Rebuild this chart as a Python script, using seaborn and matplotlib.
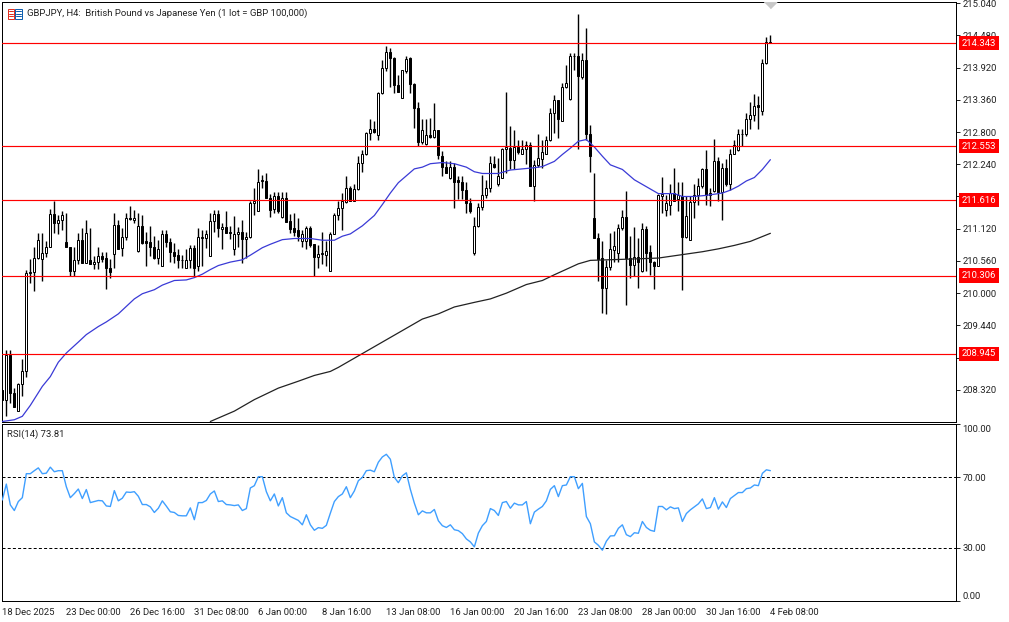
import numpy as np
import pandas as pd
import matplotlib
matplotlib.use("Agg")
import matplotlib.pyplot as plt
from matplotlib.patches import Rectangle
import seaborn as sns

# GBPJPY H4 candles
opens = [208.32,208.15,208.93,208.27,207.95,208.42,208.64,210.35,210.37,210.61,
210.59,210.70,210.81,211.38,211.22,211.27,210.89,210.80,210.38,210.58,
210.92,210.53,210.57,210.51,210.54,210.65,210.61,210.44,210.68,211.18,
210.79,210.98,211.30,211.27,210.73,211.17,210.90,210.89,210.80,210.61,
210.48,211.03,210.89,210.72,210.67,210.58,210.44,210.57,210.79,210.47,
210.96,210.96,210.64,211.25,211.38,211.12,211.15,211.06,210.76,211.03,
211.06,210.94,210.98,211.56,211.43,211.95,211.95,211.66,211.47,211.69,
211.33,211.66,211.25,211.13,211.09,210.90,210.90,211.13,210.85,210.62,
210.68,210.67,210.38,211.03,211.36,211.48,211.59,211.83,211.61,211.81,
212.26,212.41,212.78,212.85,212.74,213.48,213.91,214.19,214.09,213.62,
213.39,213.86,214.08,213.64,213.22,212.62,212.59,212.75,212.71,212.83,
212.39,212.19,212.00,212.20,211.96,211.93,211.80,211.57,210.69,211.16,
211.50,211.70,211.83,212.25,211.89,212.01,212.51,212.52,212.32,212.54,
212.42,212.50,212.57,211.87,212.22,212.34,212.41,212.66,213.13,213.35,
213.00,213.58,213.38,214.13,214.13,213.75,214.06,212.77,211.31,210.96,
210.61,210.09,210.46,210.75,210.69,211.13,211.32,210.61,210.49,210.63,
210.38,211.12,210.71,210.54,210.48,211.68,211.44,211.53,211.74,211.63,
211.68,210.97,210.93,211.59,211.71,211.86,212.16,211.74,211.78,212.29,
211.75,212.18,211.89,212.42,212.48,212.76,212.76,213.03,213.09,213.27,
213.16,214.00,214.36]

highs = [208.32,209.02,209.02,208.35,208.44,208.86,210.40,210.59,210.80,211.05,
211.05,210.90,211.46,211.60,211.35,211.42,211.40,210.80,210.80,211.05,
211.13,211.27,211.13,210.64,210.80,210.71,210.71,210.59,211.40,211.27,
211.13,211.39,211.51,211.44,211.39,211.36,211.07,211.16,210.99,210.93,
211.09,211.09,210.96,210.87,210.76,210.67,210.77,210.83,210.84,211.13,
211.09,211.10,211.39,211.44,211.45,211.22,211.43,211.17,211.34,211.15,
211.28,211.07,211.61,211.83,212.16,212.06,212.09,211.73,211.76,211.75,
211.75,211.75,211.38,211.39,211.31,211.09,211.16,211.16,210.85,210.83,
211.06,210.90,211.06,211.39,211.61,211.74,212.03,211.86,211.89,212.38,
212.48,212.80,213.02,212.99,213.49,214.05,214.30,214.26,214.11,213.80,
213.87,214.12,214.11,213.65,213.32,213.03,213.02,213.04,213.30,212.83,
212.47,212.29,212.29,212.26,212.03,212.03,211.93,211.66,211.32,211.57,
212.06,211.97,212.38,212.38,212.35,212.52,213.50,212.91,212.84,212.66,
212.67,212.64,212.62,212.32,212.77,212.67,212.73,213.22,213.44,213.36,
213.65,213.96,214.17,214.17,214.86,214.17,214.61,212.93,212.08,211.05,
210.90,210.58,211.05,211.08,211.21,211.45,211.77,211.00,211.15,210.96,
211.22,211.16,210.84,210.56,211.73,212.02,211.71,211.90,212.18,211.93,
211.93,211.68,211.68,211.90,212.00,212.18,212.48,211.83,212.68,212.37,
212.26,212.33,212.50,212.66,212.85,212.85,213.13,213.32,213.46,213.42,
214.07,214.45,214.49]

lows = [208.15,207.87,208.09,208.02,207.95,208.21,208.54,210.18,210.03,210.59,
210.22,210.63,210.81,211.05,211.03,211.10,210.80,210.30,210.30,210.50,
210.53,210.53,210.50,210.42,210.42,210.55,210.07,210.26,210.43,210.76,
210.64,210.93,211.28,211.22,210.71,210.86,210.47,210.64,210.59,210.50,
210.48,210.80,210.55,210.52,210.44,210.44,210.43,210.44,210.29,210.38,
210.47,210.79,210.64,211.07,210.97,210.76,211.05,210.94,210.67,210.81,
210.53,210.61,210.96,211.35,211.43,211.82,211.66,211.33,211.40,211.40,
211.31,211.23,211.05,211.00,210.90,210.81,210.76,210.81,210.30,210.44,
210.50,210.47,210.38,211.02,211.27,211.09,211.57,211.60,211.60,211.80,
212.10,212.40,212.67,212.78,212.67,213.46,213.86,213.58,213.48,213.49,
213.39,213.83,213.48,212.87,212.56,212.60,212.58,212.70,212.70,212.33,
212.03,212.08,211.99,211.48,211.64,211.63,211.39,211.39,210.66,211.15,
211.45,211.66,211.76,212.18,211.86,212.00,212.09,212.15,212.15,212.42,
212.41,212.25,211.87,211.60,212.20,212.18,212.41,212.64,212.78,212.69,
212.99,213.57,213.36,213.88,212.50,213.72,212.67,212.10,210.95,210.21,
209.66,209.63,210.40,210.55,210.55,211.10,209.80,210.27,210.29,210.09,
210.36,210.38,210.32,210.07,210.47,211.40,211.34,211.35,211.60,211.42,
210.05,210.96,210.92,211.31,211.54,211.83,211.54,211.51,211.76,211.60,
211.28,211.87,211.79,212.41,212.47,212.55,212.73,212.86,212.99,212.86,
213.10,213.99,214.35]

closes = [208.15,208.93,208.27,208.02,208.42,208.64,210.35,210.37,210.61,210.92,
210.70,210.81,211.38,211.22,211.27,211.35,210.80,210.38,210.58,210.92,
210.53,211.05,210.51,210.54,210.65,210.59,210.43,210.36,211.18,210.77,
210.98,211.30,211.29,211.31,211.17,210.87,210.87,210.80,210.61,210.77,
211.03,210.89,210.72,210.65,210.57,210.57,210.57,210.79,210.44,210.98,
210.98,211.03,211.25,211.38,211.13,211.15,211.05,211.05,211.03,211.06,
210.94,210.98,211.56,211.61,211.94,211.97,211.66,211.45,211.69,211.42,
211.66,211.24,211.12,211.07,211.00,211.02,211.13,210.84,210.62,210.68,
210.70,210.74,211.03,211.36,211.48,211.60,211.83,211.61,211.81,212.26,
212.42,212.78,212.85,212.80,213.48,213.91,214.19,214.08,213.61,213.50,
213.87,214.07,213.64,213.22,212.62,212.84,212.75,212.71,212.84,212.40,
212.19,212.09,212.20,211.94,211.93,211.79,211.57,211.42,211.16,211.50,
211.71,211.83,212.26,212.19,212.03,212.51,212.54,212.32,212.54,212.45,
212.50,212.57,211.87,212.23,212.35,212.45,212.67,213.13,213.35,213.02,
213.58,213.65,214.13,214.12,213.77,214.06,212.76,212.38,210.96,210.60,
210.09,210.46,210.76,210.82,211.13,211.32,210.61,210.49,210.63,210.55,
211.12,210.70,210.54,210.48,211.71,211.72,211.56,211.74,211.61,211.70,
210.97,211.34,211.59,211.71,211.86,212.16,211.71,211.71,212.29,211.75,
212.18,211.89,212.42,212.57,212.77,212.77,213.03,213.09,213.25,213.23,
214.00,214.36,214.35]

# moving averages, read at these bars
blue_bars = [0,3,5,7,10,12,14,16,19,21,24,26,29,31,33,35,38,40,43,46,48,50,52,54,57,60,62,65,67,70,73,77,80,83,
             85,87,90,93,95,97,99,101,103,105,107,110,113,116,118,120,124,127,130,133,135,138,140,142,144,146,148,150,152,155,158,160,162,164,168,
             170,173,176,180,182,184,186,188,190,192]
blue_ma = [207.77,207.80,207.86,208.05,208.38,208.55,208.80,208.96,209.15,209.28,209.42,209.50,209.64,209.77,209.90,209.99,210.06,210.14,210.22,210.23,210.27,210.33,210.41,210.48,210.54,210.58,210.66,210.79,210.85,210.93,210.95,210.95,210.92,210.92,
           210.99,211.03,211.17,211.35,211.54,211.74,211.92,212.04,212.16,212.19,212.25,212.27,212.25,212.19,212.11,212.08,212.08,212.14,212.16,212.18,212.20,212.29,212.41,212.52,212.64,212.67,212.54,212.38,212.23,212.15,211.97,211.89,211.81,211.73,211.73,
           211.68,211.68,211.70,211.74,211.79,211.86,211.95,212.01,212.15,212.32]
black_bars = [52,58,63,69,74,78,82,84,105,109,113,118,122,126,131,135,138,144,147,156,164,169,175,179,183,187,192]
black_ma = [207.77,207.95,208.15,208.35,208.47,208.57,208.64,208.71,209.55,209.64,209.76,209.84,209.90,210.00,210.15,210.22,210.32,210.51,210.57,210.59,210.61,210.66,210.72,210.77,210.83,210.90,211.04]

rsi = [57.2,66.2,54.4,51.2,56.3,58.5,72.1,72.1,73.8,75.4,72.1,72.4,75.8,73.2,73.8,73.8,64.7,58.5,60.8,63.4,
58.0,63.1,55.7,56.3,56.9,56.7,53.8,53.5,62.5,56.7,58.2,61.7,61.5,61.9,59.3,54.6,54.6,53.3,50.1,52.5,
56.7,53.7,50.5,50.1,48.4,48.2,48.2,52.7,46.0,55.7,55.7,56.9,60.6,62.3,56.3,56.7,54.6,54.4,54.0,54.4,
51.2,52.3,64.0,65.3,70.4,70.4,61.9,56.7,60.6,53.8,58.5,49.9,47.8,46.7,45.6,43.1,48.8,43.1,40.0,41.5,
41.1,42.8,49.7,56.3,59.1,60.6,64.7,58.5,62.3,68.1,70.0,73.8,74.1,73.2,78.6,81.6,83.1,80.3,70.0,67.0,
70.9,72.6,63.2,55.4,48.8,51.0,49.9,49.9,51.8,45.4,42.6,41.6,43.1,40.3,39.8,38.1,35.1,33.4,30.6,38.4,
42.6,45.0,52.3,51.2,48.4,
55.7,56.3,52.5,55.4,54.4,54.4,56.3,43.7,50.3,52.0,53.5,56.7,63.2,65.3,59.1,65.3,65.7,70.4,70.4,63.6,
66.6,47.8,43.7,33.4,31.5,28.7,33.8,36.8,36.9,41.1,43.1,37.5,36.4,38.6,38.3,45.0,41.6,40.0,39.4,53.5,
53.5,51.6,53.3,52.3,52.7,45.0,49.5,51.6,53.3,55.0,57.8,52.3,52.9,58.5,52.0,56.1,52.9,58.0,59.7,61.4,
61.4,63.6,64.0,65.7,65.3,72.3,74.3,73.81]

levels = [214.343, 212.553, 211.616, 210.306, 208.945]
level_labels = ["214.343", "212.553", "211.616", "210.306", "208.945"]
price_ticks = [215.04, 214.48, 213.92, 213.36, 212.80, 212.24, 211.68, 211.12, 210.56, 210.00, 209.44, 208.88, 208.32]
time_labels = ["18 Dec 2025", "23 Dec 00:00", "26 Dec 16:00", "31 Dec 08:00", "6 Jan 00:00", "8 Jan 16:00", "13 Jan 08:00",
               "16 Jan 00:00", "20 Jan 16:00", "23 Jan 08:00", "28 Jan 00:00", "30 Jan 16:00", "4 Feb 08:00"]

df = pd.DataFrame({"open": opens, "high": highs, "low": lows, "close": closes, "rsi": rsi})
df["bar"] = df.index
df["up"] = df["close"] >= df["open"]

sns.set_style("white")
plt.rcParams["font.family"] = ["Roboto", "DejaVu Sans"]
font_size = 6.8
plt.rcParams["font.size"] = font_size

W, H = 1009, 622
line_w = 0.72   # one pixel at dpi 100
fig = plt.figure(figsize=(W / 100, H / 100), dpi=100, facecolor="white")
ax = fig.add_axes([2 / W, 1 - 422 / H, 954 / W, 420 / H])
ax2 = fig.add_axes([2 / W, 1 - 600.8 / H, 954 / W, 176.3 / H])

# candles
ax.vlines(df["bar"], df["low"], df["high"], color="black", linewidth=1.0, zorder=2)
for up, fill in [(True, "white"), (False, "black")]:
    part = df[df["up"] == up]
    ax.bar(part["bar"], (part["close"] - part["open"]).abs(), bottom=part[["open", "close"]].min(axis=1),
           width=0.5, color=fill, edgecolor="black", linewidth=line_w, zorder=2.5)

# moving averages
sns.lineplot(x=blue_bars, y=blue_ma, ax=ax, color="#3a3ad6", linewidth=0.9, zorder=3)
sns.lineplot(x=black_bars, y=black_ma, ax=ax, color="#222222", linewidth=0.9, zorder=3)

# horizontal levels and their tags
for lvl, txt in zip(levels, level_labels):
    ax.axhline(lvl, color="red", linewidth=0.85, zorder=4)
    ax.annotate(txt, xy=(1, lvl), xycoords=("axes fraction", "data"), xytext=(6, 0), textcoords="offset pixels",
                color="white", fontsize=font_size, va="center", ha="left", annotation_clip=False, zorder=6,
                bbox=dict(boxstyle="square,pad=0.28", fc="red", ec="none"))

# grey marker of the chart shift
ax.plot([192], [215.0], marker=[(-1, 0.5), (1, 0.5), (0, -0.5)], color="#c8c8c8", markersize=9, zorder=5)

ax.set_xlim(-0.08, 238.4)
ax.set_ylim(207.761, 215.06)
ax.set_xticks([])
ax.yaxis.tick_right()
ax.set_yticks(price_ticks)
ax.set_yticklabels(["%.3f" % t for t in price_ticks])
ax.tick_params(axis="y", length=3, width=line_w, pad=1.5, labelsize=font_size, colors="#222222")

# RSI panel
sns.lineplot(x="bar", y="rsi", data=df, ax=ax2, color="#3f9fff", linewidth=1.0, errorbar=None, zorder=3)
for v in [70, 30]:
    ax2.axhline(v, color="black", linewidth=line_w, linestyle=(0, (3, 2.2)), zorder=2)
ax2.set_xlim(-0.08, 238.4)
ax2.set_ylim(0, 100)
ax2.set_xlabel("")
ax2.set_ylabel("")
ax2.yaxis.tick_right()
ax2.set_yticks([0, 30, 70, 100])
ax2.set_yticklabels(["0.00", "30.00", "70.00", ""])
ax2.get_yticklabels()[0].set_va("bottom")
ax2.annotate("100.00", xy=(1, 100), xycoords=("axes fraction", "data"), xytext=(6, -5),
             textcoords="offset pixels", color="#222222", fontsize=font_size, va="center", ha="left", annotation_clip=False)
ax2.set_xticks(np.arange(0, 193, 16))
ax2.set_xticklabels(time_labels, ha="left")
ax2.tick_params(axis="y", length=3, width=line_w, pad=1.5, labelsize=font_size, colors="#222222")
ax2.tick_params(axis="x", length=4, width=line_w, pad=1.5, labelsize=font_size, colors="#222222")

for a in [ax, ax2]:
    for s in a.spines.values():
        s.set_visible(True)
        s.set_color("black")
        s.set_linewidth(line_w)

# header texts
fig.text(27 / W, 1 - 13 / H, "GBPJPY, H4:  British Pound vs Japanese Yen (1 lot = GBP 100,000)",
         fontsize=font_size, color="#222222", va="center", ha="left")
fig.text(7 / W, 1 - 434 / H, "RSI(14) 73.81", fontsize=font_size, color="#222222", va="center", ha="left")

# the little window icon
fig.add_artist(Rectangle((7.5 / W, 1 - 18.5 / H), 6.5 / W, 10 / H, fc="white", ec="#e03020", lw=line_w))
fig.add_artist(Rectangle((15 / W, 1 - 18.5 / H), 6.5 / W, 10 / H, fc="white", ec="#1060b0", lw=line_w))
for yy in [11, 13.5, 16]:
    fig.add_artist(plt.Line2D([8.5 / W, 13 / W], [1 - yy / H, 1 - yy / H], color="#e03020", lw=line_w))
    fig.add_artist(plt.Line2D([16 / W, 20.5 / W], [1 - yy / H, 1 - yy / H], color="#1060b0", lw=line_w))

fig.savefig("out.png", dpi=100, facecolor="white")
